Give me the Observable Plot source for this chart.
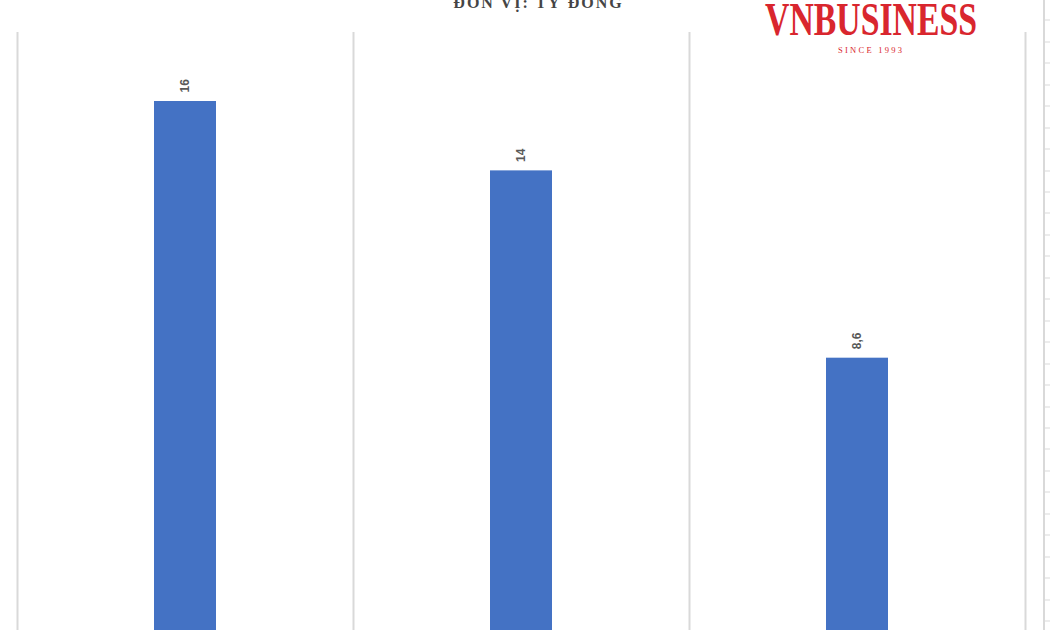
<!DOCTYPE html>
<html>
<head>
<meta charset="utf-8">
<script src="https://cdn.jsdelivr.net/npm/d3@7"></script>
<script src="https://cdn.jsdelivr.net/npm/@observablehq/plot@0.6"></script>
<style>
  html, body { margin: 0; padding: 0; background: #fff; overflow: hidden; width: 1050px; height: 630px; }
  #wrap { position: relative; width: 1050px; height: 630px; overflow: hidden; }
  #title { position: absolute; left: 0; width: 1077px; top: -6px; text-align: center; line-height: 18px;
    font-family: "Liberation Serif", "DejaVu Serif", serif; font-weight: bold; font-size: 16px;
    letter-spacing: 2px; color: #454545; z-index: 2; }
  #logo { position: absolute; left: 760px; top: 0px; z-index: 2; }
  #sideaxis { position: absolute; left: 1043px; top: 0; width: 7px; height: 630px;
    border-left: 2px solid #d9d9d9; box-sizing: border-box;
    background: repeating-linear-gradient(to bottom, transparent 0px, transparent 19.45px, #d9d9d9 19.45px, #d9d9d9 20.45px, transparent 20.45px, transparent 21.45px);
    background-position: 0 0.5px; }
  svg.plot { overflow: hidden; }
</style>
</head>
<body>
<div id="wrap">
  <div id="title"></div>
  <svg id="logo" width="240" height="60">
    <text id="logoText" x="5" y="35" textLength="212" lengthAdjust="spacingAndGlyphs"
      font-family="Liberation Serif, DejaVu Serif, serif" font-weight="bold" font-size="47" fill="#d9262e"></text>
    <text id="logoSub" x="110" y="53" text-anchor="middle" textLength="64" lengthAdjust="spacing"
      font-family="Liberation Serif, DejaVu Serif, serif" font-size="8.5" fill="#d9262e"></text>
  </svg>
  <div id="sideaxis"></div>
  <div id="chart"></div>
</div>
<script>
const titleText = "ĐƠN VỊ: TỶ ĐỒNG";
const logoText = "VNBUSINESS";
const logoSub = "SINCE 1993";
const categories = ["A", "B", "C"];
const values = [16, 14, 8.6];

document.getElementById("title").textContent = titleText;
document.getElementById("logoText").textContent = logoText;
document.getElementById("logoSub").textContent = logoSub;

const data = categories.map((c, i) => ({cat: c, value: values[i]}));
const bandLeft = 17, bandRight = 1025;
const bandwidth = (bandRight - bandLeft) / categories.length;
const fmt = v => String(v).replace(".", ",");

const chart = Plot.plot({
  width: 1050,
  height: 630,
  marginTop: 32,
  marginBottom: 0,
  marginLeft: 0,
  marginRight: 0,
  style: {background: "transparent", overflow: "hidden"},
  x: {domain: categories, range: [bandLeft, bandRight], padding: 0, axis: null},
  y: {domain: [0, 16], range: [656, 101], axis: null},
  marks: [
    Plot.ruleX(categories, {x: d => d, dx: -bandwidth / 2, stroke: "#d9d9d9", strokeWidth: 2}),
    Plot.ruleX([categories[categories.length - 1]], {x: d => d, dx: bandwidth / 2, stroke: "#d9d9d9", strokeWidth: 2}),
    Plot.barY(data, {x: "cat", y: "value", fill: "#4472c4", insetLeft: 137, insetRight: 137}),
    Plot.text(data, {x: "cat", y: "value", text: d => fmt(d.value), rotate: -90, textAnchor: "start",
      dy: -9, fill: "#595959", fontWeight: "bold", fontSize: 12,
      fontFamily: "Liberation Sans, Arial, sans-serif"})
  ]
});
document.getElementById("chart").appendChild(chart);
</script>
</body>
</html>
